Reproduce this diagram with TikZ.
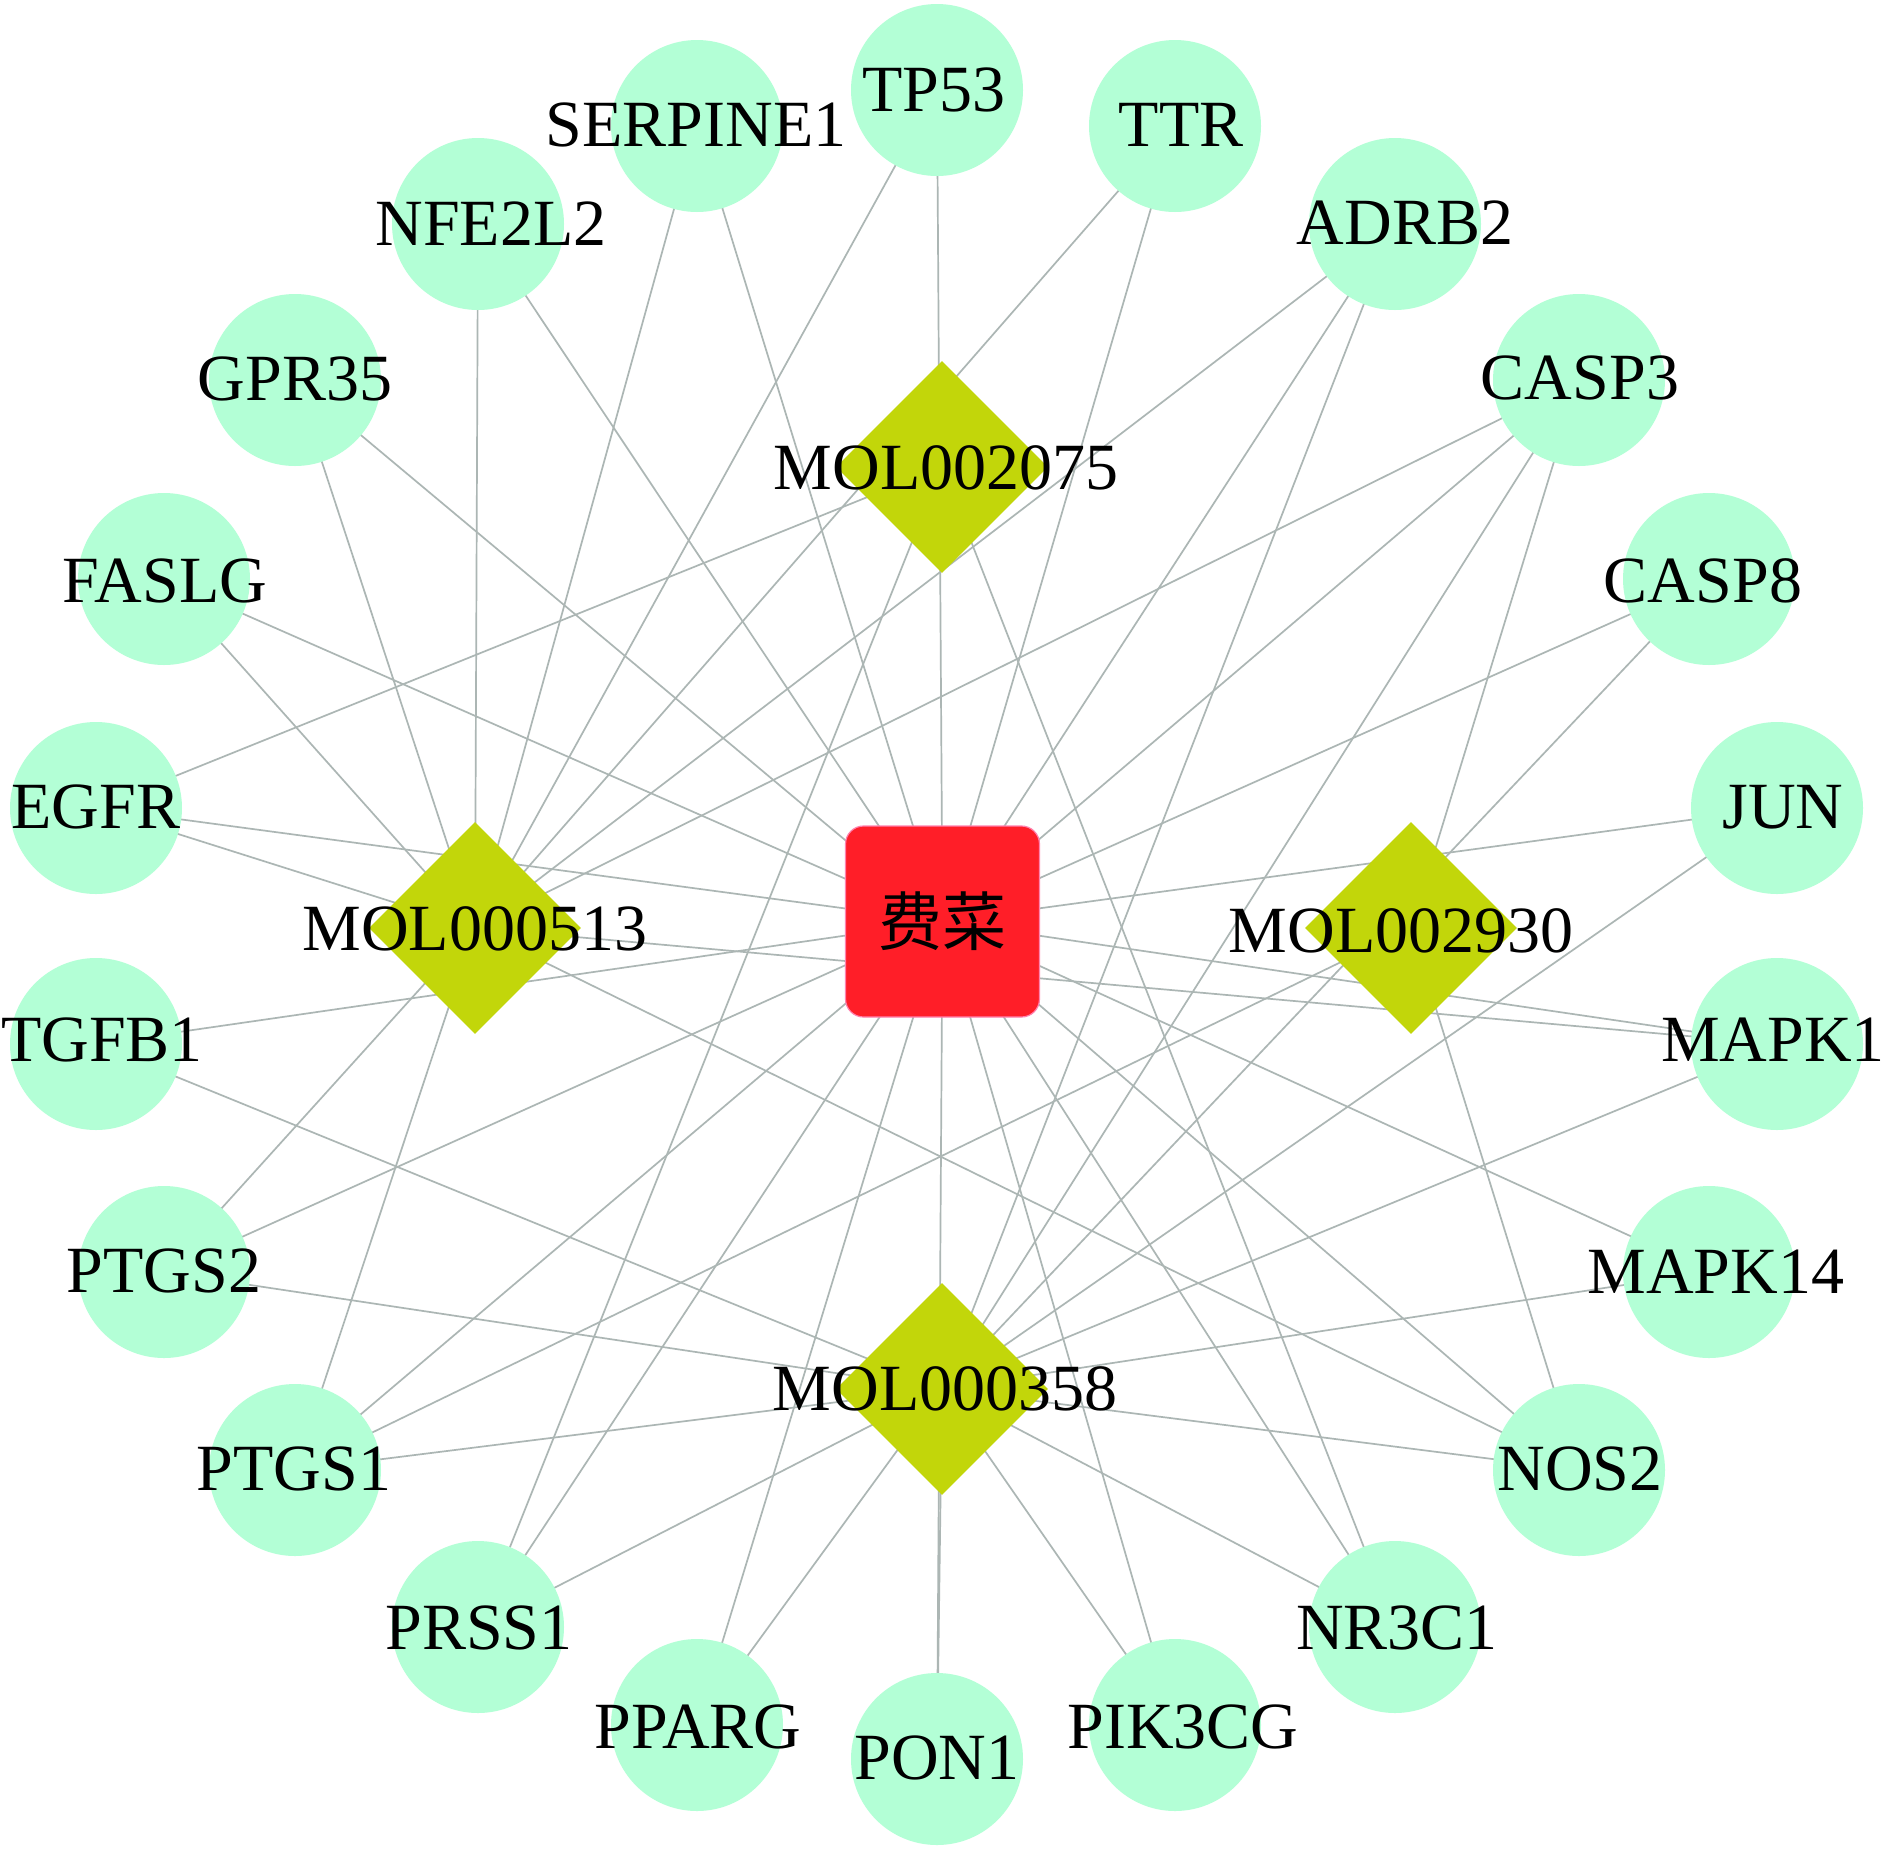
\documentclass[tikz,border=0pt]{standalone}
\usepackage{fontspec}
\setmainfont{Liberation Serif}
\newfontfamily\cjkfont{Noto Sans CJK SC}
\usetikzlibrary{shapes.geometric}
\pgfdeclarelayer{bg}
\pgfsetlayers{bg,main}
\definecolor{tgtc}{RGB}{179,255,214}
\definecolor{molc}{RGB}{194,214,10}
\definecolor{herbc}{RGB}{255,30,40}
\definecolor{herbedge}{RGB}{255,130,175}
\definecolor{edgec}{RGB}{172,182,180}
\begin{document}
\begin{tikzpicture}[x=1pt,y=-1pt,
  tgtnode/.style={circle, fill=tgtc, minimum size=172pt, inner sep=0pt},
  molnode/.style={diamond, aspect=1, fill=molc, minimum width=212pt, minimum height=212pt, inner sep=0pt},
  herbnode/.style={rectangle, rounded corners=18pt, fill=herbc, draw=herbedge, line width=1.2pt,
     minimum width=194pt, minimum height=191pt, inner sep=0pt,
     font=\cjkfont\fontsize{64}{70}\selectfont},
  lbl/.style={font=\fontsize{66}{79}\selectfont, inner sep=0pt, text height=44pt, text depth=0pt, anchor=center},
  edg/.style={draw=edgec, line width=1.7pt}]
\useasboundingbox (0,0) rectangle (1890,1853);

% target nodes
\node[tgtnode] (tp53) at (937,90) {};
\node[tgtnode] (ttr) at (1175,126) {};
\node[tgtnode] (adrb2) at (1395,224) {};
\node[tgtnode] (casp3) at (1579,380) {};
\node[tgtnode] (casp8) at (1709,579) {};
\node[tgtnode] (jun) at (1777,808) {};
\node[tgtnode] (mapk1) at (1777,1044) {};
\node[tgtnode] (mapk14) at (1709,1272) {};
\node[tgtnode] (nos2) at (1579,1470) {};
\node[tgtnode] (nr3c1) at (1395,1627) {};
\node[tgtnode] (pik3cg) at (1175,1725) {};
\node[tgtnode] (pon1) at (937,1759) {};
\node[tgtnode] (pparg) at (697,1725) {};
\node[tgtnode] (prss1) at (478,1627) {};
\node[tgtnode] (ptgs1) at (295,1470) {};
\node[tgtnode] (ptgs2) at (164,1272) {};
\node[tgtnode] (tgfb1) at (96,1044) {};
\node[tgtnode] (egfr) at (96,808) {};
\node[tgtnode] (faslg) at (164,579) {};
\node[tgtnode] (gpr35) at (295,380) {};
\node[tgtnode] (nfe2l2) at (478,224) {};
\node[tgtnode] (serpine1) at (697,126) {};

% compound nodes
\node[molnode] (m2075) at (942,467) {};
\node[molnode] (m513) at (475,928) {};
\node[molnode] (m2930) at (1411,928) {};
\node[molnode] (m358) at (942,1389) {};

% herb node
\node[herbnode] (herb) at (942.5,921.5) {费菜};

% background and edges
\begin{pgfonlayer}{bg}
\fill[white] (0,0) rectangle (1890,1853);
\foreach \t in {tp53,ttr,adrb2,casp3,casp8,jun,mapk1,mapk14,nos2,nr3c1,pik3cg,pon1,pparg,prss1,ptgs1,ptgs2,tgfb1,egfr,faslg,gpr35,nfe2l2,serpine1}
  \draw[edg] (herb.center) -- (\t.center);
\foreach \t in {tp53,ttr,adrb2,casp3,mapk1,nos2,ptgs1,ptgs2,egfr,faslg,gpr35,nfe2l2,serpine1}
  \draw[edg] (m513.center) -- (\t.center);
\foreach \t in {egfr,prss1,nr3c1}
  \draw[edg] (m2075.center) -- (\t.center);
\foreach \t in {casp3,ptgs1,nos2}
  \draw[edg] (m2930.center) -- (\t.center);
\foreach \t in {adrb2,casp3,casp8,jun,mapk1,mapk14,nos2,nr3c1,pik3cg,pon1,pparg,prss1,ptgs1,ptgs2,tgfb1}
  \draw[edg] (m358.center) -- (\t.center);
\end{pgfonlayer}

% labels
\node[lbl] (tp53-l) at (934,89) {TP53};
\node[lbl] (ttr-l) at (1181,124) {TTR};
\node[lbl] (adrb2-l) at (1405,222) {ADRB2};
\node[lbl] (casp3-l) at (1580,377) {CASP3};
\node[lbl] (casp8-l) at (1703,580) {CASP8};
\node[lbl] (jun-l) at (1783,806) {JUN};
\node[lbl] (mapk1-l) at (1773,1039) {MAPK1};
\node[lbl] (mapk14-l) at (1716,1271) {MAPK14};
\node[lbl] (nos2-l) at (1580,1468) {NOS2};
\node[lbl] (nr3c1-l) at (1397,1627) {NR3C1};
\node[lbl] (pik3cg-l) at (1183,1726) {PIK3CG};
\node[lbl] (pon1-l) at (937,1757) {PON1};
\node[lbl] (pparg-l) at (698,1726) {PPARG};
\node[lbl] (prss1-l) at (479,1627) {PRSS1};
\node[lbl] (ptgs1-l) at (294,1468) {PTGS1};
\node[lbl] (ptgs2-l) at (164,1270) {PTGS2};
\node[lbl] (tgfb1-l) at (102,1039) {TGFB1};
\node[lbl] (egfr-l) at (96,806) {EGFR};
\node[lbl] (faslg-l) at (165,580) {FASLG};
\node[lbl] (gpr35-l) at (295,378) {GPR35};
\node[lbl] (nfe2l2-l) at (491,223) {NFE2L2};
\node[lbl] (serpine1-l) at (696,124) {SERPINE1};
\node[lbl] (m2075-l) at (946,467) {MOL002075};
\node[lbl] (m513-l) at (475,928) {MOL000513};
\node[lbl] (m2930-l) at (1401,930) {MOL002930};
\node[lbl] (m358-l) at (945,1388) {MOL000358};
\end{tikzpicture}
\end{document}
